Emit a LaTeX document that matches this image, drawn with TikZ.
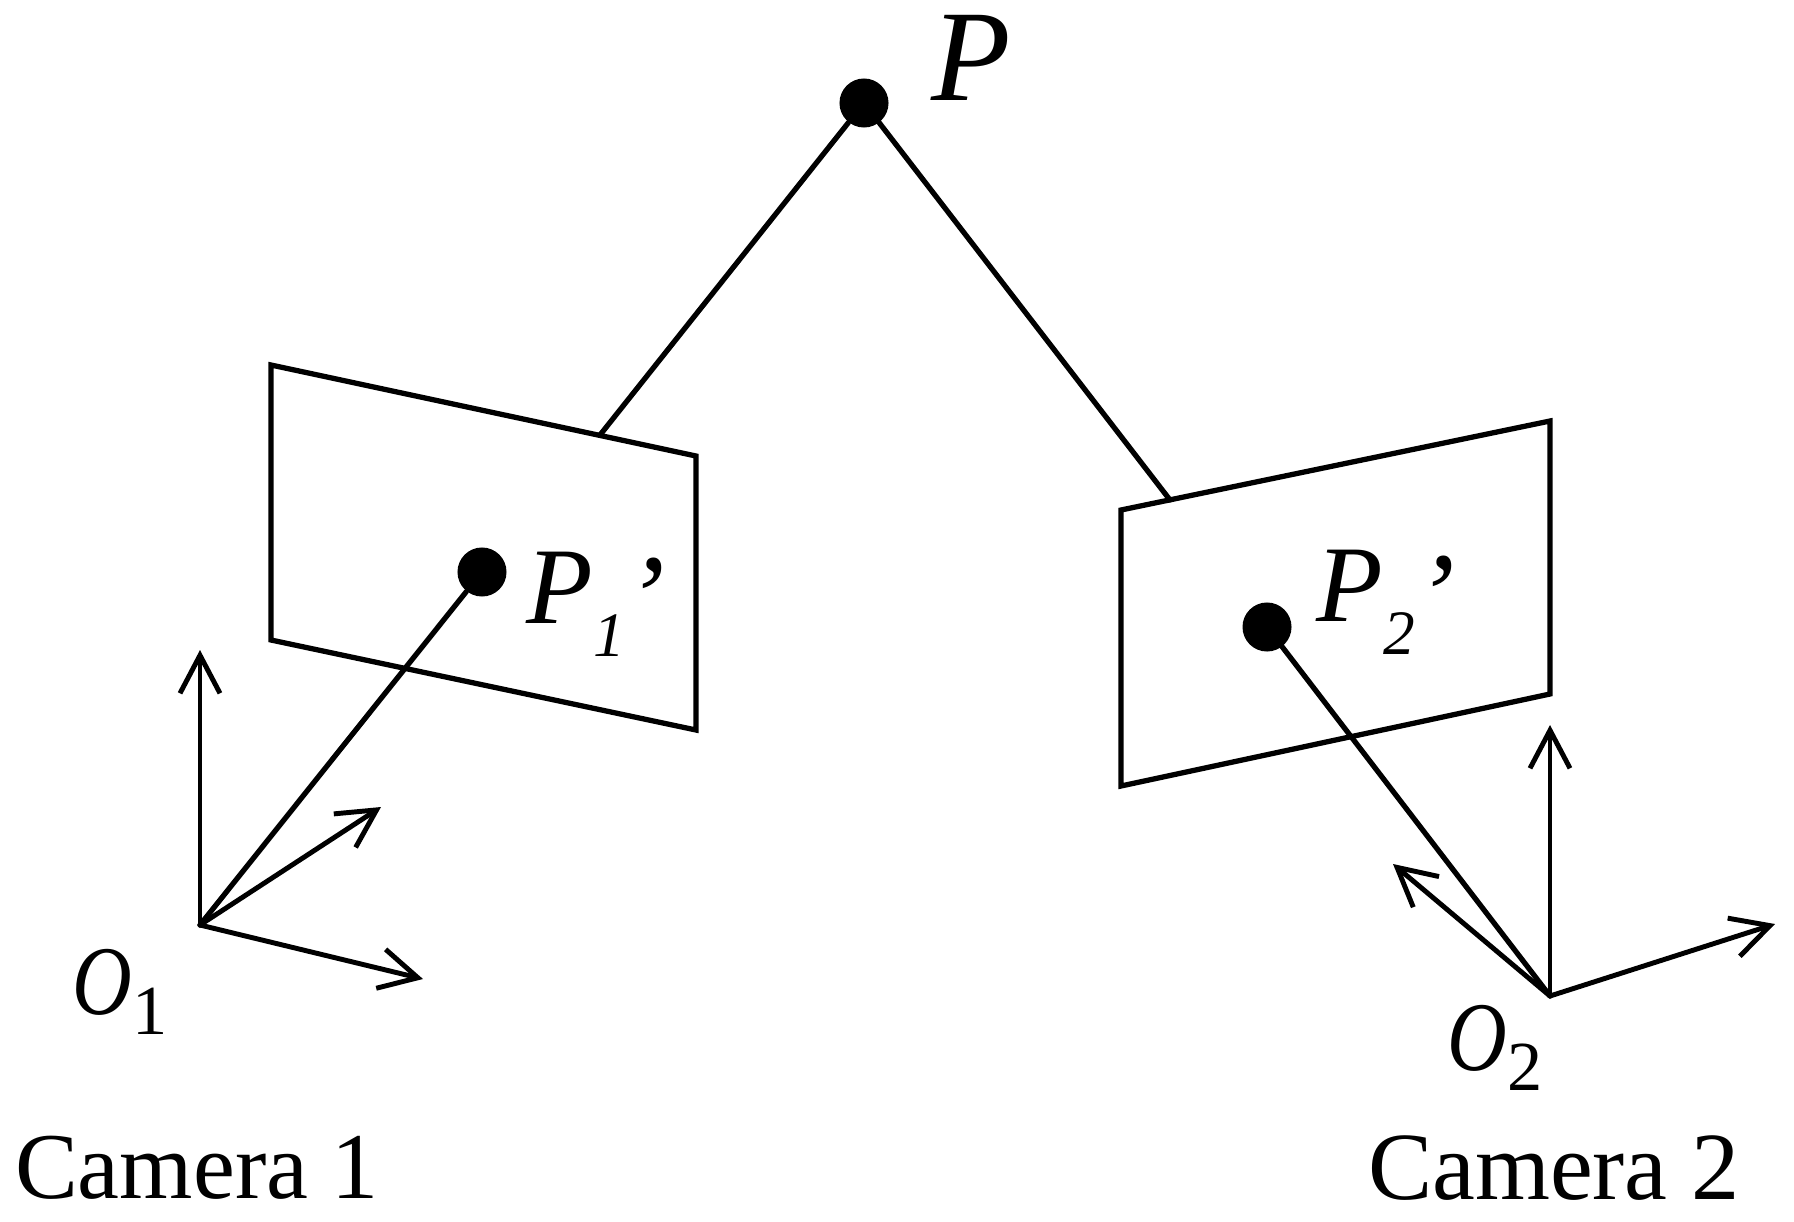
\documentclass[tikz,border=0pt]{standalone}
\usepackage{fontspec}
\setmainfont{Liberation Serif}
\usetikzlibrary{arrows.meta}
\tikzset{
  px/.style={x=0.01cm,y=-0.01cm},
  ln/.style={draw=black,line width=1.5pt,line cap=round,line join=miter},
  arr/.style={draw=black,line width=1.4pt,line cap=round,-{Straight Barb[length=0.38cm,width=0.40cm,line width=1.4pt]}},
  dot/.style={circle,fill=black,inner sep=0pt,minimum size=0.49cm},
  lab/.style={font=\fontsize{26.8}{30}\selectfont,inner sep=0pt,text=black},
  ital/.style={font=\fontsize{37}{40}\selectfont\itshape,inner sep=0pt,text=black},
  itsm/.style={font=\fontsize{31}{36}\selectfont\itshape,inner sep=0pt,text=black},
  orig/.style={font=\fontsize{28}{32}\selectfont,inner sep=0pt,text=black}
}
\newcommand{\camO}[1]{\scalebox{0.84}[1]{\textit{O}}\raisebox{-0.2em}{\fontsize{20}{20}\selectfont #1}}
\newcommand{\primed}{\raisebox{-0.13em}{\fontsize{34}{34}\selectfont ’}}
\begin{document}
\begin{tikzpicture}[px]
\useasboundingbox[fill=white] (0,0) rectangle (1794,1221);
\node[dot] (P) at (864,103) {};
\node[dot] (P1) at (482,572) {};
\node[dot] (P2) at (1267,627) {};
\coordinate (O1) at (200,925);
\coordinate (O2) at (1550,996);
\coordinate (A) at (271,365);
\coordinate (B) at (696,456);
\coordinate (C) at (696,730);
\coordinate (D) at (271,640);
\coordinate (E) at (1121,510);
\coordinate (F) at (1550,421);
\coordinate (G) at (1550,694);
\coordinate (H) at (1121,786);
\coordinate (L) at (600,435);
\coordinate (R) at (1170,500);
\coordinate (X1) at (200,650);
\coordinate (X2) at (381,807);
\coordinate (X3) at (423,979);
\coordinate (Y1) at (1550,725);
\coordinate (Y2) at (1393,864);
\coordinate (Y3) at (1775,924);
\draw[ln] (A) -- (B) -- (C) -- (D) -- cycle;
\draw[ln] (E) -- (F) -- (G) -- (H) -- cycle;
\draw[ln] (P) -- (L);
\draw[ln] (P) -- (R);
\draw[ln] (P1) -- (O1);
\draw[ln] (P2) -- (O2);
\draw[arr] (O1) -- (X1);
\draw[arr] (O1) -- (X2);
\draw[arr] (O1) -- (X3);
\draw[arr] (O2) -- (Y1);
\draw[arr] (O2) -- (Y2);
\draw[arr] (O2) -- (Y3);
\node[ital] (tP) at (971,58) {P};
\node[itsm] (t1) at (596,604) {P\raisebox{-0.3em}{\fontsize{18}{18}\selectfont 1}\primed};
\node[itsm] (t2) at (1386,602) {P\raisebox{-0.3em}{\fontsize{18}{18}\selectfont 2}\primed};
\node[orig] (o1) at (120,992) {\camO{1}};
\node[orig] (o2) at (1495,1048) {\camO{2}};
\node[lab] (c1) at (197,1168) {Camera 1};
\node[lab,font=\fontsize{27.4}{30}\selectfont] (c2) at (1554,1168) {Camera 2};
\end{tikzpicture}
\end{document}
